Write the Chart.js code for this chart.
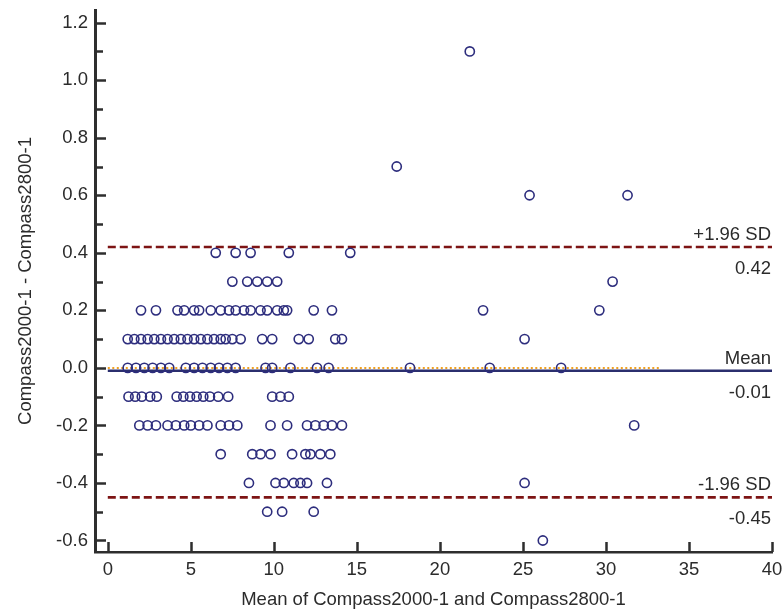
<!DOCTYPE html>
<html>
<head>
<meta charset="utf-8">
<script src="https://cdn.jsdelivr.net/npm/chart.js@4.4.1/dist/chart.umd.min.js"></script>
<style>
  html, body { margin: 0; padding: 0; background: #ffffff; }
  canvas { display: block; }
</style>
</head>
<body>
<canvas id="chart" width="784" height="614"></canvas>
<script>
// Bland-Altman: difference of the two readings against their mean.
// Each array holds the means that share one difference value.
const meansAtPlus11 = [21.8];
const meansAtPlus07 = [17.4];
const meansAtPlus06 = [25.4, 31.3];
const meansAtPlus04 = [6.5, 7.7, 8.6, 10.9, 14.6];
const meansAtPlus03 = [7.5, 8.4, 9.0, 9.6, 10.2, 30.4];
const meansAtPlus02 = [2.0, 2.9, 4.2, 4.6, 5.2, 5.5, 6.2, 6.8, 7.3, 7.7, 8.2, 8.6, 9.2, 9.6, 10.2, 10.6, 10.8, 12.4, 13.5, 22.6, 29.6];
const meansAtPlus01 = [1.2, 1.6, 2.0, 2.4, 2.8, 3.2, 3.6, 4.0, 4.4, 4.8, 5.2, 5.6, 6.0, 6.4, 6.8, 7.1, 7.5, 8.0, 9.3, 9.9, 11.5, 12.1, 13.7, 14.1, 25.1];
const meansAtZero = [1.2, 1.7, 2.2, 2.7, 3.2, 3.7, 4.7, 5.2, 5.7, 6.2, 6.7, 7.2, 7.7, 9.5, 9.9, 11.0, 12.6, 13.3, 18.2, 23.0, 27.3];
const meansAtMinus01 = [1.25, 1.65, 2.05, 2.55, 2.95, 4.15, 4.55, 4.95, 5.35, 5.75, 6.15, 6.65, 7.25, 9.9, 10.4, 10.9];
const meansAtMinus02 = [1.9, 2.4, 2.9, 3.6, 4.1, 4.6, 5.0, 5.5, 6.0, 6.8, 7.3, 7.8, 9.8, 10.8, 12.0, 12.5, 13.0, 13.5, 14.1, 31.7];
const meansAtMinus03 = [6.8, 8.7, 9.2, 9.8, 11.1, 11.9, 12.2, 12.8, 13.4];
const meansAtMinus04 = [8.5, 10.1, 10.6, 11.2, 11.6, 12.0, 13.2, 25.1];
const meansAtMinus05 = [9.6, 10.5, 12.4];
const meansAtMinus06 = [26.2];

const diffGroups = [
  [1.1, meansAtPlus11], [0.7, meansAtPlus07], [0.6, meansAtPlus06],
  [0.4, meansAtPlus04], [0.3, meansAtPlus03], [0.2, meansAtPlus02],
  [0.1, meansAtPlus01], [0.0, meansAtZero], [-0.1, meansAtMinus01],
  [-0.2, meansAtMinus02], [-0.3, meansAtMinus03], [-0.4, meansAtMinus04],
  [-0.5, meansAtMinus05], [-0.6, meansAtMinus06],
];

// limits of agreement and mean difference
const upperLimit = 0.42;
const meanDiff = -0.01;
const lowerLimit = -0.45;
const zeroLineEnd = 33.3;

const xTickValues = [0, 5, 10, 15, 20, 25, 30, 35, 40];
const yTickValues = [-0.6, -0.4, -0.2, 0.0, 0.2, 0.4, 0.6, 0.8, 1.0, 1.2];
const yMinorValues = [-0.5, -0.3, -0.1, 0.1, 0.3, 0.5, 0.7, 0.9, 1.1];

const xMin = -0.77, xMax = 40;
const yMin = -0.64, yMax = 1.244;

const textColor = "#2b2b2b";
const axisColor = "#2e2e2e";
const pointColor = "rgb(45, 45, 125)";
const limitColor = "#7d1414";
const meanColor = "#2b2f6e";
const zeroColor = "#f0a020";
const fontFamily = "'Liberation Sans', Arial, sans-serif";
const fontSize = 18.5;

Chart.defaults.font.family = fontFamily;
Chart.defaults.font.size = fontSize;
Chart.defaults.color = textColor;

const points = [];
diffGroups.forEach(([diff, means]) => {
  means.forEach((m) => points.push({ x: m, y: diff }));
});

function hline(y, x0, x1) {
  return [{ x: x0, y }, { x: x1, y }];
}

// tick marks point into the plot, so they are drawn by hand
const innerTicks = {
  id: "innerTicks",
  afterDatasetsDraw(chart) {
    const { ctx, scales: { x, y } } = chart;
    ctx.save();
    ctx.strokeStyle = axisColor;
    ctx.lineWidth = 2.5;
    ctx.beginPath();
    yTickValues.forEach((v) => {
      const py = Math.round(y.getPixelForValue(v)) + 0.5;
      ctx.moveTo(x.left, py);
      ctx.lineTo(x.left + 11, py);
    });
    yMinorValues.forEach((v) => {
      const py = Math.round(y.getPixelForValue(v)) + 0.5;
      ctx.moveTo(x.left, py);
      ctx.lineTo(x.left + 8, py);
    });
    xTickValues.forEach((v) => {
      const px = Math.round(x.getPixelForValue(v)) + 0.5;
      ctx.moveTo(px, y.bottom);
      ctx.lineTo(px, y.bottom - 10);
    });
    ctx.stroke();
    ctx.restore();
  },
};

const limitLabels = {
  id: "limitLabels",
  afterDatasetsDraw(chart) {
    const { ctx, chartArea, scales: { y } } = chart;
    const right = chartArea.right - 1;
    const rows = [
      ["+1.96 SD", upperLimit.toFixed(2), upperLimit],
      ["Mean", meanDiff.toFixed(2), meanDiff],
      ["-1.96 SD", lowerLimit.toFixed(2), lowerLimit],
    ];
    ctx.save();
    ctx.fillStyle = textColor;
    ctx.font = `${fontSize}px ${fontFamily}`;
    ctx.textAlign = "right";
    ctx.textBaseline = "alphabetic";
    rows.forEach(([name, value, level]) => {
      const py = y.getPixelForValue(level);
      ctx.fillText(name, right, py - 7);
      ctx.fillText(value, right, py + 27);
    });
    ctx.restore();
  },
};

new Chart(document.getElementById("chart"), {
  type: "scatter",
  data: {
    datasets: [
      {
        label: "Differences",
        data: points,
        pointStyle: "circle",
        pointRadius: 4.6,
        pointBorderWidth: 1.6,
        pointBorderColor: pointColor,
        pointBackgroundColor: "rgba(0,0,0,0)",
        order: 0,
      },
      {
        type: "line",
        label: "+1.96 SD",
        data: hline(upperLimit, 0, xMax),
        borderColor: limitColor,
        borderWidth: 2.6,
        borderDash: [8, 4],
        pointRadius: 0,
        order: 1,
      },
      {
        type: "line",
        label: "-1.96 SD",
        data: hline(lowerLimit, 0, xMax),
        borderColor: limitColor,
        borderWidth: 2.6,
        borderDash: [8, 4],
        pointRadius: 0,
        order: 1,
      },
      {
        type: "line",
        label: "Mean",
        data: hline(meanDiff, 0, xMax),
        borderColor: meanColor,
        borderWidth: 2.6,
        pointRadius: 0,
        order: 2,
      },
      {
        type: "line",
        label: "Zero",
        data: hline(0, 0, zeroLineEnd),
        borderColor: zeroColor,
        borderWidth: 2,
        borderDash: [2, 2.5],
        pointRadius: 0,
        order: 3,
      },
    ],
  },
  options: {
    responsive: false,
    animation: false,
    layout: { padding: { top: 10, right: 12, left: 0, bottom: 0 } },
    plugins: {
      legend: { display: false },
      tooltip: { enabled: false },
    },
    scales: {
      x: {
        type: "linear",
        min: xMin,
        max: xMax,
        afterBuildTicks: (scale) => {
          scale.ticks = xTickValues.map((value) => ({ value }));
        },
        afterFit: (scale) => {
          scale.height = 62;
          scale.paddingLeft = 0;
          scale.paddingRight = 0;
        },
        grid: { display: false, drawTicks: false },
        border: { display: true, color: axisColor, width: 2.5 },
        ticks: {
          padding: 7,
          color: textColor,
          maxRotation: 0,
          callback: (v) => String(v),
        },
        title: {
          display: true,
          text: "Mean of Compass2000-1 and Compass2800-1",
          color: textColor,
          padding: { top: 0, bottom: 3 },
        },
      },
      y: {
        type: "linear",
        min: yMin,
        max: yMax,
        afterBuildTicks: (scale) => {
          scale.ticks = yTickValues.map((value) => ({ value }));
        },
        afterFit: (scale) => {
          scale.width = 95;
          scale.paddingTop = 0;
          scale.paddingBottom = 0;
        },
        grid: { display: false, drawTicks: false },
        border: { display: true, color: axisColor, width: 3 },
        ticks: {
          padding: 7,
          color: textColor,
          callback: (v) => v.toFixed(1),
        },
        title: {
          display: true,
          text: "Compass2000-1 - Compass2800-1",
          color: textColor,
          padding: { top: 15, bottom: 0 },
        },
      },
    },
  },
  plugins: [innerTicks, limitLabels],
});
</script>
</body>
</html>
